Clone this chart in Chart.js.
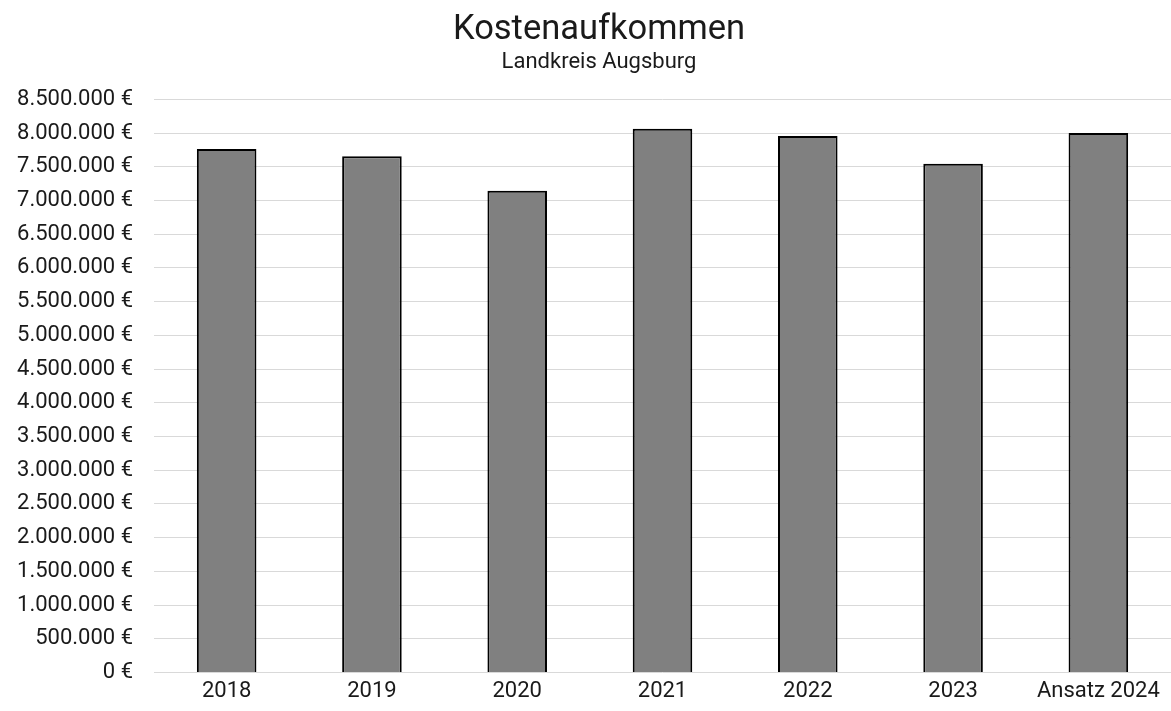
<!DOCTYPE html>
<html>
<head>
<meta charset="utf-8">
<script src="https://cdn.jsdelivr.net/npm/chart.js@4"></script>
<style>
  html, body { margin: 0; padding: 0; background: #fff; }
  #wrap { width: 1171px; height: 711px; }
</style>
</head>
<body>
<div id="wrap"><canvas id="chart"></canvas></div>
<script>
// Daten
const jahre = ['2018', '2019', '2020', '2021', '2022', '2023', 'Ansatz 2024'];
const kosten = [7765000, 7655000, 7145000, 8065000, 7955000, 7545000, 8000000];
const yMax = 8500000;
const yStep = 500000;

// 8500000 -> "8.500.000 €"
const euro = v => String(Math.round(v)).replace(/\B(?=(\d{3})+(?!\d))/g, '.') + ' €';

Chart.defaults.font.family = 'Roboto, sans-serif';
Chart.defaults.color = '#1a1a1a';

// Titel sitzt im Original etwas rechts der Mitte
const titelVersatz = {
    id: 'titelVersatz',
    afterLayout(chart) {
        chart.boxes.forEach(b => {
            if (b.position === 'top' && b.options && 'text' in b.options) b.left += 27;
        });
    }
};

new Chart(document.getElementById('chart'), {
    type: 'bar',
    data: {
        labels: jahre,
        datasets: [{
            label: 'Kostenaufkommen',
            data: kosten,
            backgroundColor: '#808080',
            borderColor: '#000000',
            borderWidth: 2,
            categoryPercentage: 1,
            barPercentage: 0.41
        }]
    },
    options: {
        responsive: true,
        maintainAspectRatio: false,
        animation: false,
        layout: { padding: { left: 0, right: 0, top: 0, bottom: 0 } },
        plugins: {
            legend: { display: false },
            tooltip: { enabled: false },
            title: {
                display: true,
                text: 'Kostenaufkommen',
                font: { size: 34.5, weight: 'normal', lineHeight: 1.1 },
                padding: { top: 11, bottom: 0 }
            },
            subtitle: {
                display: true,
                text: 'Landkreis Augsburg',
                font: { size: 22 },
                padding: { top: 0, bottom: 24 }
            }
        },
        scales: {
            x: {
                grid: { display: false, drawTicks: false },
                border: { display: false },
                ticks: { font: { size: 22 }, padding: 6 }
            },
            y: {
                min: 0,
                max: yMax,
                grid: { color: '#d9d9d9', lineWidth: 1, drawTicks: false },
                border: { display: false },
                afterFit: axis => { axis.width = 154; },
                ticks: {
                    stepSize: yStep,
                    font: { size: 22 },
                    padding: 21,
                    callback: v => euro(v)
                }
            }
        }
    },
    plugins: [titelVersatz]
});
</script>
</body>
</html>
